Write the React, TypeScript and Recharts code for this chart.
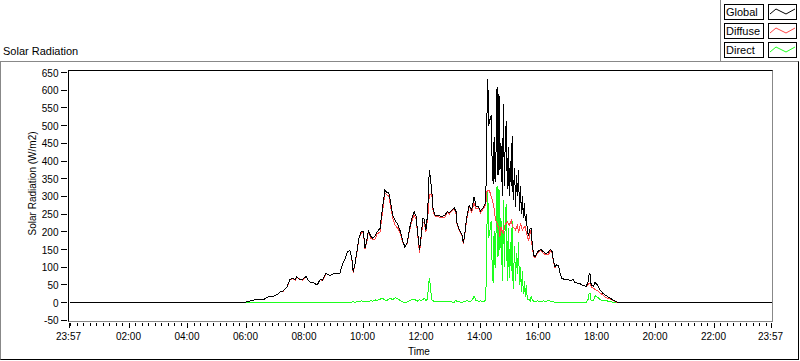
import { LineChart, Line, XAxis, YAxis, Legend } from 'recharts';

// minutes after midnight (23:57 of the previous evening = -3)
const times = [
  -3, 353, 359, 367, 373, 382, 388, 394, 404, 414, 423, 429, 435,
  443, 449, 455, 460, 463, 470, 475, 482, 486, 492, 497, 505,
  511, 516, 523, 528, 531, 538, 545, 552, 557, 562, 567, 572,
  576, 579, 583, 587, 591, 596, 600, 603, 607, 610, 615, 619,
  624, 628, 634, 639, 644, 648, 652, 656, 660, 665, 671, 676,
  680, 685, 690, 694, 699, 704, 708, 710, 715, 717, 722, 725,
  728, 731, 733, 735, 737, 740, 743, 747, 754, 761, 767, 772,
  776, 781, 786, 790, 792, 797, 802, 805, 808, 812, 817, 822, 827,
  831, 836, 840, 846, 851,
  853, 855, 857, 860, 862, 864, 866, 868, 870, 872, 874, 876, 878, 880,
  882, 885, 887, 889, 891, 893, 895, 897, 899, 901, 903, 905, 907, 910,
  912, 914, 916, 918, 920, 922, 924, 926, 928, 930, 932, 934, 936, 938, 940, 942,
  944, 946, 949, 952, 957, 964, 969, 975, 980, 984, 987, 990, 993, 996, 1000, 1003,
  1007, 1013, 1020, 1027, 1030, 1034, 1039, 1044, 1051, 1057,
  1061, 1063, 1065, 1067, 1072, 1075, 1079, 1082, 1085, 1091, 1095, 1100, 1106, 1113, 1118, 1123, 1437,
];

const globalRad = [
  0, 0, 2, 5, 7, 9, 10, 8, 16, 17, 23, 30, 33,
  44, 65, 69, 65, 72, 65, 65, 74, 65, 57, 57, 50,
  65, 64, 82, 80, 76, 82, 82, 84, 110, 123, 144, 147,
  128, 88, 112, 149, 185, 202, 200, 154, 177, 202, 188, 182,
  188, 200, 210, 266, 318, 311, 311, 280, 247, 233, 219, 200,
  177, 157, 170, 205, 238, 257, 243, 214, 149, 172, 238, 236,
  205, 243, 299, 374, 355, 318, 261, 247, 246, 243, 247, 257,
  254, 261, 268, 257, 224, 205, 191, 168, 196, 243, 275, 261, 299,
  271, 271, 259, 269, 285,
  510, 633, 500, 520, 530, 393, 336, 468, 341, 430, 608, 360, 590, 374,
  450, 300, 560, 330, 470, 512, 320, 440, 300, 400, 330, 470, 290, 380,
  270, 360, 300, 374, 260, 330, 250, 300, 240, 280, 230, 250, 205, 190, 200, 210,
  210, 168, 135, 130, 144, 151, 144, 138, 144, 151, 144, 116, 100, 107, 104, 85,
  69, 65, 65, 62, 67, 57, 55, 54, 48, 46,
  60, 82, 80, 51, 46, 57, 51, 46, 37, 27, 22, 18, 13, 7, 3, 0, 0,
];

const diffuseRad = [
  0, 0, 2, 5, 7, 9, 10, 8, 16, 17, 23, 30, 32,
  44, 64, 69, 63, 72, 66, 64, 74, 65, 56, 57, 50,
  65, 62, 82, 80, 76, 81, 82, 84, 110, 122, 144, 147,
  126, 85, 111, 145, 183, 197, 197, 152, 173, 199, 182, 178,
  180, 194, 200, 254, 310, 305, 301, 268, 239, 219, 209, 194,
  174, 157, 168, 200, 230, 247, 237, 210, 141, 166, 229, 224,
  199, 233, 259, 305, 305, 310, 256, 244, 242, 241, 242, 254,
  250, 259, 267, 249, 221, 203, 190, 165, 192, 237, 272, 256, 281,
  265, 267, 254, 266, 278,
  313, 318, 318, 310, 300, 290, 280, 265, 243, 230, 224, 215, 205, 186,
  214, 200, 196, 210, 224, 224, 229, 225, 219, 225, 233, 220, 214, 210,
  205, 215, 219, 200, 205, 224, 215, 205, 210, 214, 214, 196, 190, 177, 182, 205,
  192, 160, 131, 127, 139, 149, 139, 135, 137, 148, 140, 114, 99, 107, 104, 85,
  69, 65, 65, 62, 67, 57, 55, 54, 48, 46,
  50, 55, 55, 45, 41, 37, 35, 32, 28, 22, 17, 13, 10, 6, 2, 0, 0,
];

const directRad = [
  0, 0, 0, 0, 0, 0, 0, 0, 0, 0, 0, 0, 0,
  0, 0, 0, 0, 0, 0, 0, 0, 0, 0, 0, 0,
  0, 0, 0, 0, 0, 0, 0, 0, 0, 0, 0, 0,
  2, 3, 1, 4, 2, 5, 3, 2, 4, 3, 6, 4,
  8, 6, 10, 12, 8, 6, 10, 12, 8, 14, 10, 6,
  3, 0, 2, 5, 8, 10, 6, 4, 8, 6, 9, 12,
  6, 10, 40, 69, 50, 8, 5, 3, 4, 2, 5, 3,
  4, 2, 1, 8, 3, 2, 1, 3, 4, 6, 3, 5, 18,
  6, 4, 5, 3, 7,
  197, 315, 182, 210, 230, 103, 56, 203, 98, 200, 330, 130, 320, 150,
  240, 60, 290, 100, 250, 280, 60, 210, 70, 170, 90, 230, 40, 160,
  60, 140, 80, 170, 50, 100, 30, 90, 25, 60, 15, 50, 12, 8, 10, 5,
  18, 8, 4, 3, 5, 2, 5, 3, 7, 3, 4, 2, 1, 0, 0, 0,
  0, 0, 0, 0, 0, 0, 0, 0, 0, 0,
  10, 27, 25, 6, 5, 20, 16, 14, 9, 5, 5, 5, 3, 1, 1, 0, 0,
];

const yTicks = [-50, 0, 50, 100, 150, 200, 250, 300, 350, 400, 450, 500, 550, 600, 650];
const hourTicks = [-3, 120, 240, 360, 480, 600, 720, 840, 960, 1080, 1200, 1320, 1437];
const hourLabels = [
  '23:57', '02:00', '04:00', '06:00', '08:00', '10:00', '12:00',
  '14:00', '16:00', '18:00', '20:00', '22:00', '23:57',
];
const legendOrder = ['Global', 'Diffuse', 'Direct'];

// 9 minor divisions between the 2-hour labels
const minorTicks: number[] = [];
for (let k = 0; k < 108; k++) {
  if (k === 0 || k % 9 !== 0) minorTicks.push((k * 120) / 9);
}
const allTicks = [...hourTicks, ...minorTicks].sort((a, b) => a - b);

const FONT = '"Liberation Sans", Arial, sans-serif';
const GRAY = '#888888';

const chartData = times.map((t, i) => ({
  t,
  global: globalRad[i],
  diffuse: diffuseRad[i],
  direct: directRad[i],
}));

function TimeTick({ x, y, payload }: any) {
  const i = hourTicks.indexOf(payload.value);
  const major = i >= 0;
  return (
    <g>
      <rect x={Math.floor(x)} y={Math.floor(y) + 3} width={1} height={major ? 5 : 3} fill="#000" />
      {major && (
        <text x={x - 1} y={y + 20} textAnchor="middle" fontFamily={FONT} fontSize={10} fill="#000">
          {hourLabels[i]}
        </text>
      )}
    </g>
  );
}

function RadTick({ x, y, payload }: any) {
  return (
    <g>
      <rect x={Math.floor(x) - 8} y={Math.floor(y)} width={6} height={1} fill="#000" />
      <text x={Math.floor(x) - 10.5} y={y + 4} textAnchor="end" fontFamily={FONT} fontSize={10} fill="#000">
        {payload.value}
      </text>
    </g>
  );
}

function LegendBox({ payload }: any) {
  const items = legendOrder
    .map(n => (payload || []).find((p: any) => p.value === n))
    .filter(Boolean);
  return (
    <div style={{ position: 'relative', width: 80, height: 62, borderLeft: `1px solid ${GRAY}`, boxSizing: 'border-box' }}>
      {items.map((p: any, i: number) => (
        <div key={p.value}>
          <div
            style={{
              position: 'absolute', left: 3, top: 4 + i * 19, width: 40, height: 16,
              border: '1px solid #000', boxSizing: 'border-box', paddingLeft: 1,
              font: `11px ${FONT}`, lineHeight: '15px', color: '#000', whiteSpace: 'nowrap',
            }}
          >
            {p.value}
          </div>
          <svg style={{ position: 'absolute', left: 47, top: 4 + i * 19 }} width={29} height={16}>
            <rect x={0.5} y={0.5} width={28} height={15} fill="#fff" stroke="#000" />
            <polyline points="2,10 8,5 18,10 27,5" fill="none" stroke={p.color} />
          </svg>
        </div>
      ))}
    </div>
  );
}

export default function App() {
  return (
    <div style={{ position: 'absolute', left: 0, top: 0, width: 800, height: 361, background: '#fff' }}>
      <style>{'.recharts-line-curve{shape-rendering:crispEdges}'}</style>
      <div style={{ position: 'absolute', left: 0, top: 61, width: 799, height: 299, boxSizing: 'border-box',
        borderStyle: 'solid', borderWidth: 1, borderColor: `${GRAY} #000 #000 ${GRAY}` }} />
      <div style={{ position: 'absolute', left: 3, top: 45, font: `11px ${FONT}`, lineHeight: '13px', color: '#000' }}>
        Solar Radiation
      </div>
      <LineChart width={800} height={361} data={chartData} margin={{ top: 72.5, right: 28.5, bottom: 10.6, left: 0.5 }}>
        <XAxis
          dataKey="t" type="number" domain={[-3, 1437]} ticks={allTicks} interval={0}
          axisLine={false} tickLine={false} tickSize={0} tickMargin={0} height={30}
          tick={<TimeTick />}
          label={{
            content: (p: any) => (
              <text x={p.viewBox.x + p.viewBox.width / 2 - 1.5} y={p.viewBox.y + 34.5} textAnchor="middle"
                fontFamily={FONT} fontSize={10} fill="#000">Time</text>
            ),
          }}
        />
        <YAxis
          type="number" domain={[-50, 650]} ticks={yTicks} interval={0} width={69}
          axisLine={false} tickLine={false} tickSize={0} tickMargin={0}
          tick={<RadTick />}
          label={{
            content: (p: any) => (
              <text x={36} y={p.viewBox.y + p.viewBox.height / 2 - 13} textAnchor="middle"
                transform={`rotate(-90 36 ${p.viewBox.y + p.viewBox.height / 2 - 13})`}
                fontFamily={FONT} fontSize={10} fill="#000">Solar Radiation (W/m2)</text>
            ),
          }}
        />
        <Legend
          layout="vertical" align="center" verticalAlign="middle" content={<LegendBox />}
          wrapperStyle={{ left: 720, top: 0, width: 80, height: 62 }}
        />
        <Line dataKey="direct" name="Direct" type="linear" stroke="#1eff1e" strokeWidth={1} dot={false} isAnimationActive={false} />
        <Line dataKey="diffuse" name="Diffuse" type="linear" stroke="#ff4646" strokeWidth={1} dot={false} isAnimationActive={false} />
        <Line dataKey="global" name="Global" type="linear" stroke="#000000" strokeWidth={1} dot={false} isAnimationActive={false} />
      </LineChart>
      <div style={{ position: 'absolute', left: 68, top: 70, width: 705, height: 252, boxSizing: 'border-box',
        borderStyle: 'solid', borderWidth: 1, borderColor: `#000 ${GRAY} ${GRAY} #000`, pointerEvents: 'none' }} />
    </div>
  );
}
